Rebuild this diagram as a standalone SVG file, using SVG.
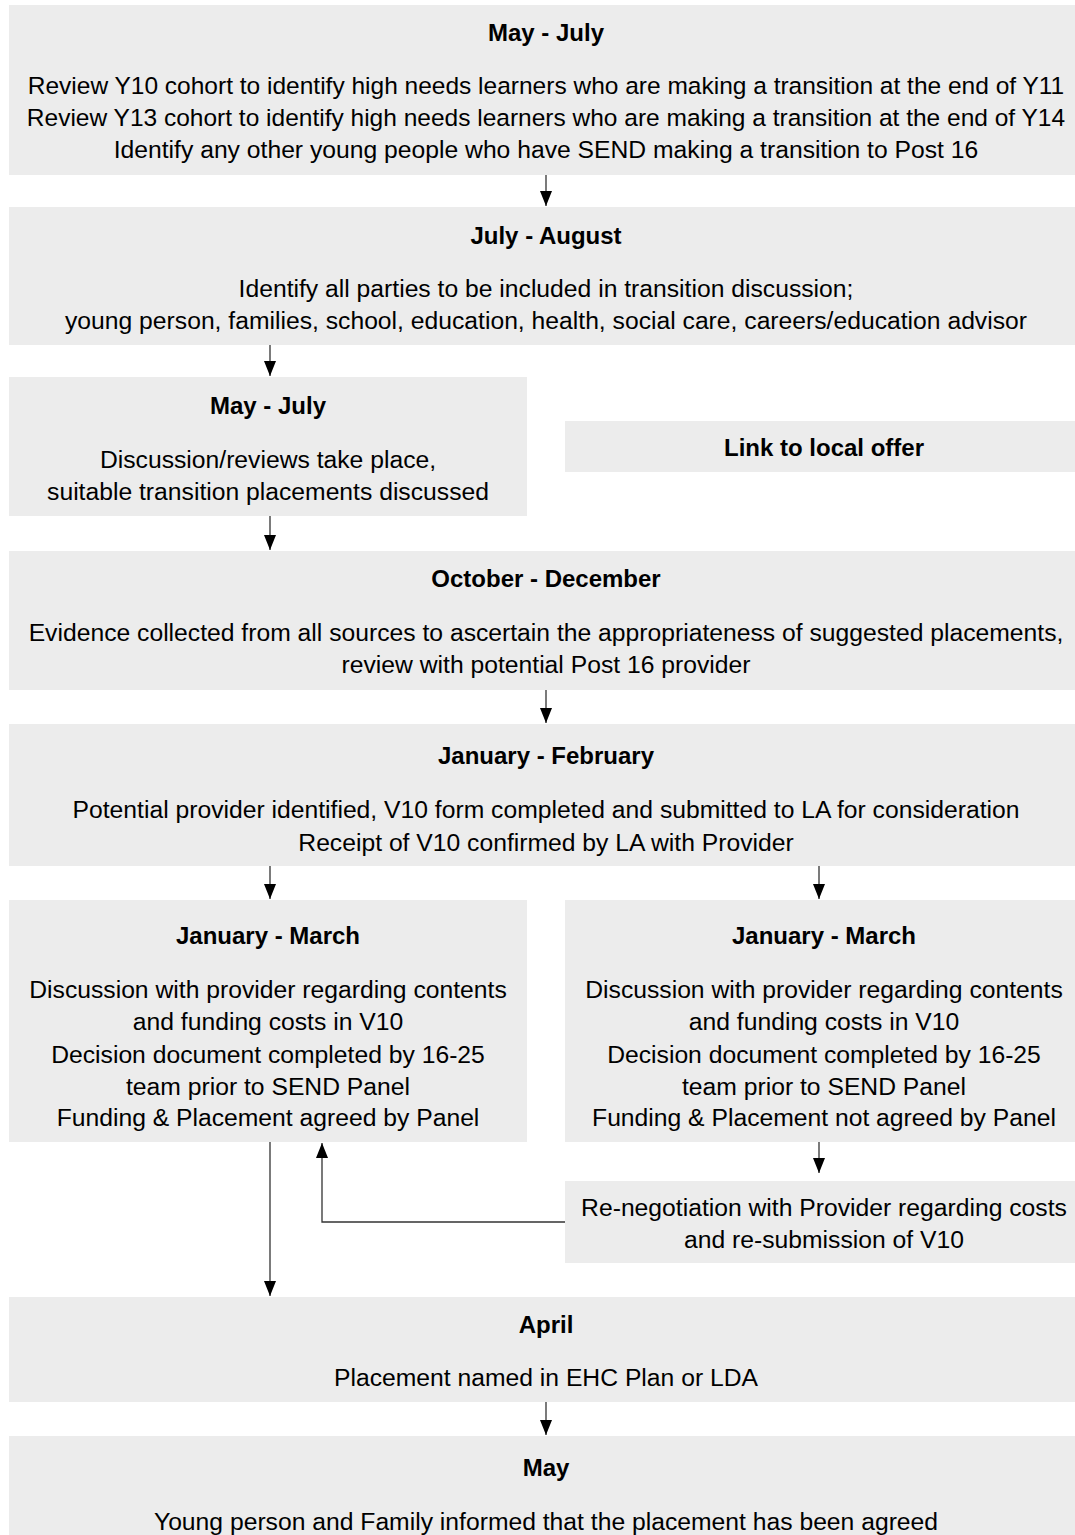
<svg xmlns="http://www.w3.org/2000/svg" width="1075" height="1535" viewBox="0 0 1075 1535">
<style>
.box{fill:#ececec}
text{font-family:"Liberation Sans",Arial,Helvetica,sans-serif;font-size:24.7px;fill:#000;text-anchor:middle}
.t{font-weight:bold;font-size:24px}
.c{stroke:#333;stroke-width:1.3;fill:none}
.l1{font-size:24.5px}
</style>
<defs>
<marker id="ah" markerWidth="15" markerHeight="12" refX="15" refY="6" orient="auto" markerUnits="userSpaceOnUse" viewBox="0 0 15 12">
<path d="M0,0 L15,6 L0,12 Z" fill="#000"/>
</marker>
</defs>
<rect width="1075" height="1535" fill="#fff"/>
<g id="n1">
<rect class="box" x="9" y="5" width="1074" height="170"/>
<text class="t" x="546" y="41">May - July</text>
<text class="l1" x="546" y="94">Review Y10 cohort to identify high needs learners who are making a transition at the end of Y11</text>
<text class="l1" x="546" y="126">Review Y13 cohort to identify high needs learners who are making a transition at the end of Y14</text>
<text x="546" y="158">Identify any other young people who have SEND making a transition to Post 16</text>
</g>
<g id="n2">
<rect class="box" x="9" y="207" width="1074" height="138"/>
<text class="t" x="546" y="244">July - August</text>
<text x="546" y="297">Identify all parties to be included in transition discussion;</text>
<text x="546" y="329">young person, families, school, education, health, social care, careers/education advisor</text>
</g>
<g id="n3">
<rect class="box" x="9" y="377" width="518" height="139"/>
<text class="t" x="268" y="414">May - July</text>
<text x="268" y="468">Discussion/reviews take place,</text>
<text x="268" y="500">suitable transition placements discussed</text>
</g>
<g id="n4">
<rect class="box" x="565" y="421" width="518" height="51"/>
<text class="t" x="824" y="456">Link to local offer</text>
</g>
<g id="n5">
<rect class="box" x="9" y="551" width="1074" height="139"/>
<text class="t" x="546" y="587">October - December</text>
<text x="546" y="641">Evidence collected from all sources to ascertain the appropriateness of suggested placements,</text>
<text x="546" y="673">review with potential Post 16 provider</text>
</g>
<g id="n6">
<rect class="box" x="9" y="724" width="1074" height="142"/>
<text class="t" x="546" y="764">January - February</text>
<text x="546" y="818">Potential provider identified, V10 form completed and submitted to LA for consideration</text>
<text x="546" y="851">Receipt of V10 confirmed by LA with Provider</text>
</g>
<g id="n7">
<rect class="box" x="9" y="900" width="518" height="242"/>
<text class="t" x="268" y="944">January - March</text>
<text x="268" y="998">Discussion with provider regarding contents</text>
<text x="268" y="1030">and funding costs in V10</text>
<text x="268" y="1063">Decision document completed by 16-25</text>
<text x="268" y="1095">team prior to SEND Panel</text>
<text x="268" y="1126">Funding &amp; Placement agreed by Panel</text>
</g>
<g id="n8">
<rect class="box" x="565" y="900" width="518" height="242"/>
<text class="t" x="824" y="944">January - March</text>
<text x="824" y="998">Discussion with provider regarding contents</text>
<text x="824" y="1030">and funding costs in V10</text>
<text x="824" y="1063">Decision document completed by 16-25</text>
<text x="824" y="1095">team prior to SEND Panel</text>
<text x="824" y="1126">Funding &amp; Placement not agreed by Panel</text>
</g>
<g id="n9">
<rect class="box" x="565" y="1181" width="518" height="82"/>
<text x="824" y="1216">Re-negotiation with Provider regarding costs</text>
<text x="824" y="1248">and re-submission of V10</text>
</g>
<g id="n10">
<rect class="box" x="9" y="1297" width="1074" height="105"/>
<text class="t" x="546" y="1333">April</text>
<text x="546" y="1386">Placement named in EHC Plan or LDA</text>
</g>
<g id="n11">
<rect class="box" x="9" y="1436" width="1074" height="110"/>
<text class="t" x="546" y="1476">May</text>
<text x="546" y="1530">Young person and Family informed that the placement has been agreed</text>
</g>
<g id="connectors">
<path class="c" d="M546,175 V206" marker-end="url(#ah)"/>
<path class="c" d="M270,345 V376" marker-end="url(#ah)"/>
<path class="c" d="M270,516 V550" marker-end="url(#ah)"/>
<path class="c" d="M546,690 V723" marker-end="url(#ah)"/>
<path class="c" d="M270,866 V899" marker-end="url(#ah)"/>
<path class="c" d="M819,866 V899" marker-end="url(#ah)"/>
<path class="c" d="M819,1142 V1173" marker-end="url(#ah)"/>
<path class="c" d="M270,1142 V1296" marker-end="url(#ah)"/>
<path class="c" d="M565,1222 H322 V1143" marker-end="url(#ah)"/>
<path class="c" d="M546,1402 V1435" marker-end="url(#ah)"/>
</g>
</svg>
